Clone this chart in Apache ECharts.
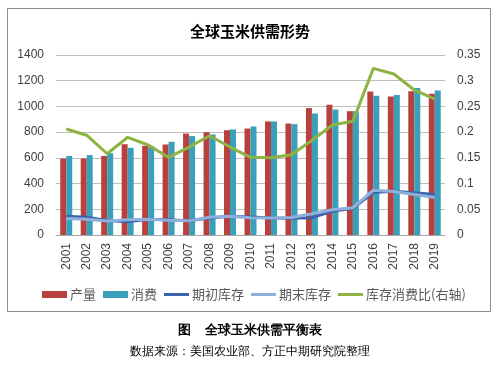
<!DOCTYPE html>
<html>
<head>
<meta charset="utf-8">
<script src="https://cdn.jsdelivr.net/npm/echarts@6/dist/echarts.min.js"></script>
<style>
html,body{margin:0;padding:0;background:#fff;}
#c{width:500px;height:366px;}
</style>
</head>
<body>
<div id="c"></div>
<script>
const years = ['2001','2002','2003','2004','2005','2006','2007','2008','2009','2010','2011','2012','2013','2014','2015','2016','2017','2018','2019'];
const production = [595,596,615,706,693,704,789,800,815,828,883,867,987,1013,963,1117,1078,1119,1099];
const consumption = [615,621,636,678,691,725,769,782,821,844,883,862,945,976,963,1083,1088,1143,1124];
const beginStocks = [146,138,112,103,123,118,110,132,146,140,133,130,135,185,208,330,340,328,315];
const endStocks = [128,123,108,118,123,115,110,138,146,135,133,136,165,197,212,348,338,315,292];
const stockUseRatio = [0.206,0.194,0.158,0.190,0.175,0.151,0.171,0.193,0.171,0.151,0.150,0.156,0.184,0.214,0.221,0.324,0.313,0.282,0.264];
const leftTicks = {min:0, max:1400, interval:200};
const rightTicks = {min:0, max:0.35, interval:0.05};

const FONT = '"Noto Sans CJK SC", "Liberation Sans", sans-serif';
const LINE_ICON = 'path://M0,0 L25,0 L25,3 L0,3 Z';
const chart = echarts.init(document.getElementById('c'), null, {renderer:'canvas'});
chart.setOption({
  backgroundColor:'#fff',
  animation:false,
  textStyle:{fontFamily:FONT},
  title:{text:'全球玉米供需形势', left:'center', top:19,
    textStyle:{fontSize:15, fontWeight:'bold', color:'#000', fontFamily:FONT}},
  grid:{left:56, right:55, top:55, bottom:131, containLabel:false},
  legend:{left:37, top:283, itemWidth:25, itemHeight:7, itemGap:7, symbolKeepAspect:true,
    textStyle:{fontSize:13, color:'#595959', fontFamily:FONT, padding:[0,0,0,-2]},
    data:[
      {name:'产量', icon:'rect'},
      {name:'消费', icon:'rect'},
      {name:'期初库存', icon:LINE_ICON},
      {name:'期末库存', icon:LINE_ICON},
      {name:'库存消费比(右轴)', icon:LINE_ICON}
    ]},
  xAxis:{type:'category', data:years,
    axisLine:{lineStyle:{color:'#a6a6a6'}}, axisTick:{show:false},
    axisLabel:{rotate:90, fontSize:12, color:'#404040', margin:8, interval:0, fontFamily:'"Liberation Sans", sans-serif'}},
  yAxis:[
    {type:'value', min:leftTicks.min, max:leftTicks.max, interval:leftTicks.interval,
     axisLine:{show:false}, axisTick:{show:false},
     axisLabel:{fontSize:12, color:'#404040', margin:12, fontFamily:'"Liberation Sans", sans-serif',
       formatter:function(v){return String(v);}},
     splitLine:{lineStyle:{color:'#bfbfbf', width:1}}},
    {type:'value', min:rightTicks.min, max:rightTicks.max, interval:rightTicks.interval,
     axisLine:{show:false}, axisTick:{show:false},
     axisLabel:{fontSize:12, color:'#404040', margin:12, fontFamily:'"Liberation Sans", sans-serif',
       formatter:function(v){return String(Math.round(v*100)/100);}},
     splitLine:{show:false}}
  ],
  series:[
    {name:'产量', type:'bar', data:production, barWidth:6, barGap:'0%', itemStyle:{color:'#b8403d'}},
    {name:'消费', type:'bar', data:consumption, barWidth:6, barGap:'0%', itemStyle:{color:'#3a9fba'}},
    {name:'期初库存', type:'line', data:beginStocks, symbol:'none', lineStyle:{color:'#3c63ad', width:3}, itemStyle:{color:'#3c63ad'}},
    {name:'期末库存', type:'line', data:endStocks, symbol:'none', lineStyle:{color:'#8fb0dc', width:3}, itemStyle:{color:'#8fb0dc'}},
    {name:'库存消费比(右轴)', type:'line', yAxisIndex:1, data:stockUseRatio, symbol:'none', lineStyle:{color:'#8db442', width:3}, itemStyle:{color:'#8db442'}}
  ],
  graphic:[
    {type:'rect', shape:{x:7.5, y:8.5, width:483, height:303}, style:{fill:null, stroke:'#8c8c8c', lineWidth:1}, silent:true, z:-1},
    {type:'text', left:'center', top:324, style:{text:'图    全球玉米供需平衡表', fontSize:13, fontWeight:'bold', fill:'#000', font:'bold 13px "Noto Sans CJK SC"'}},
    {type:'text', left:'center', top:346, style:{text:'数据来源：美国农业部、方正中期研究院整理', fontSize:12, fill:'#000', font:'12px "Noto Sans CJK SC"'}}
  ]
});
</script>
</body>
</html>
